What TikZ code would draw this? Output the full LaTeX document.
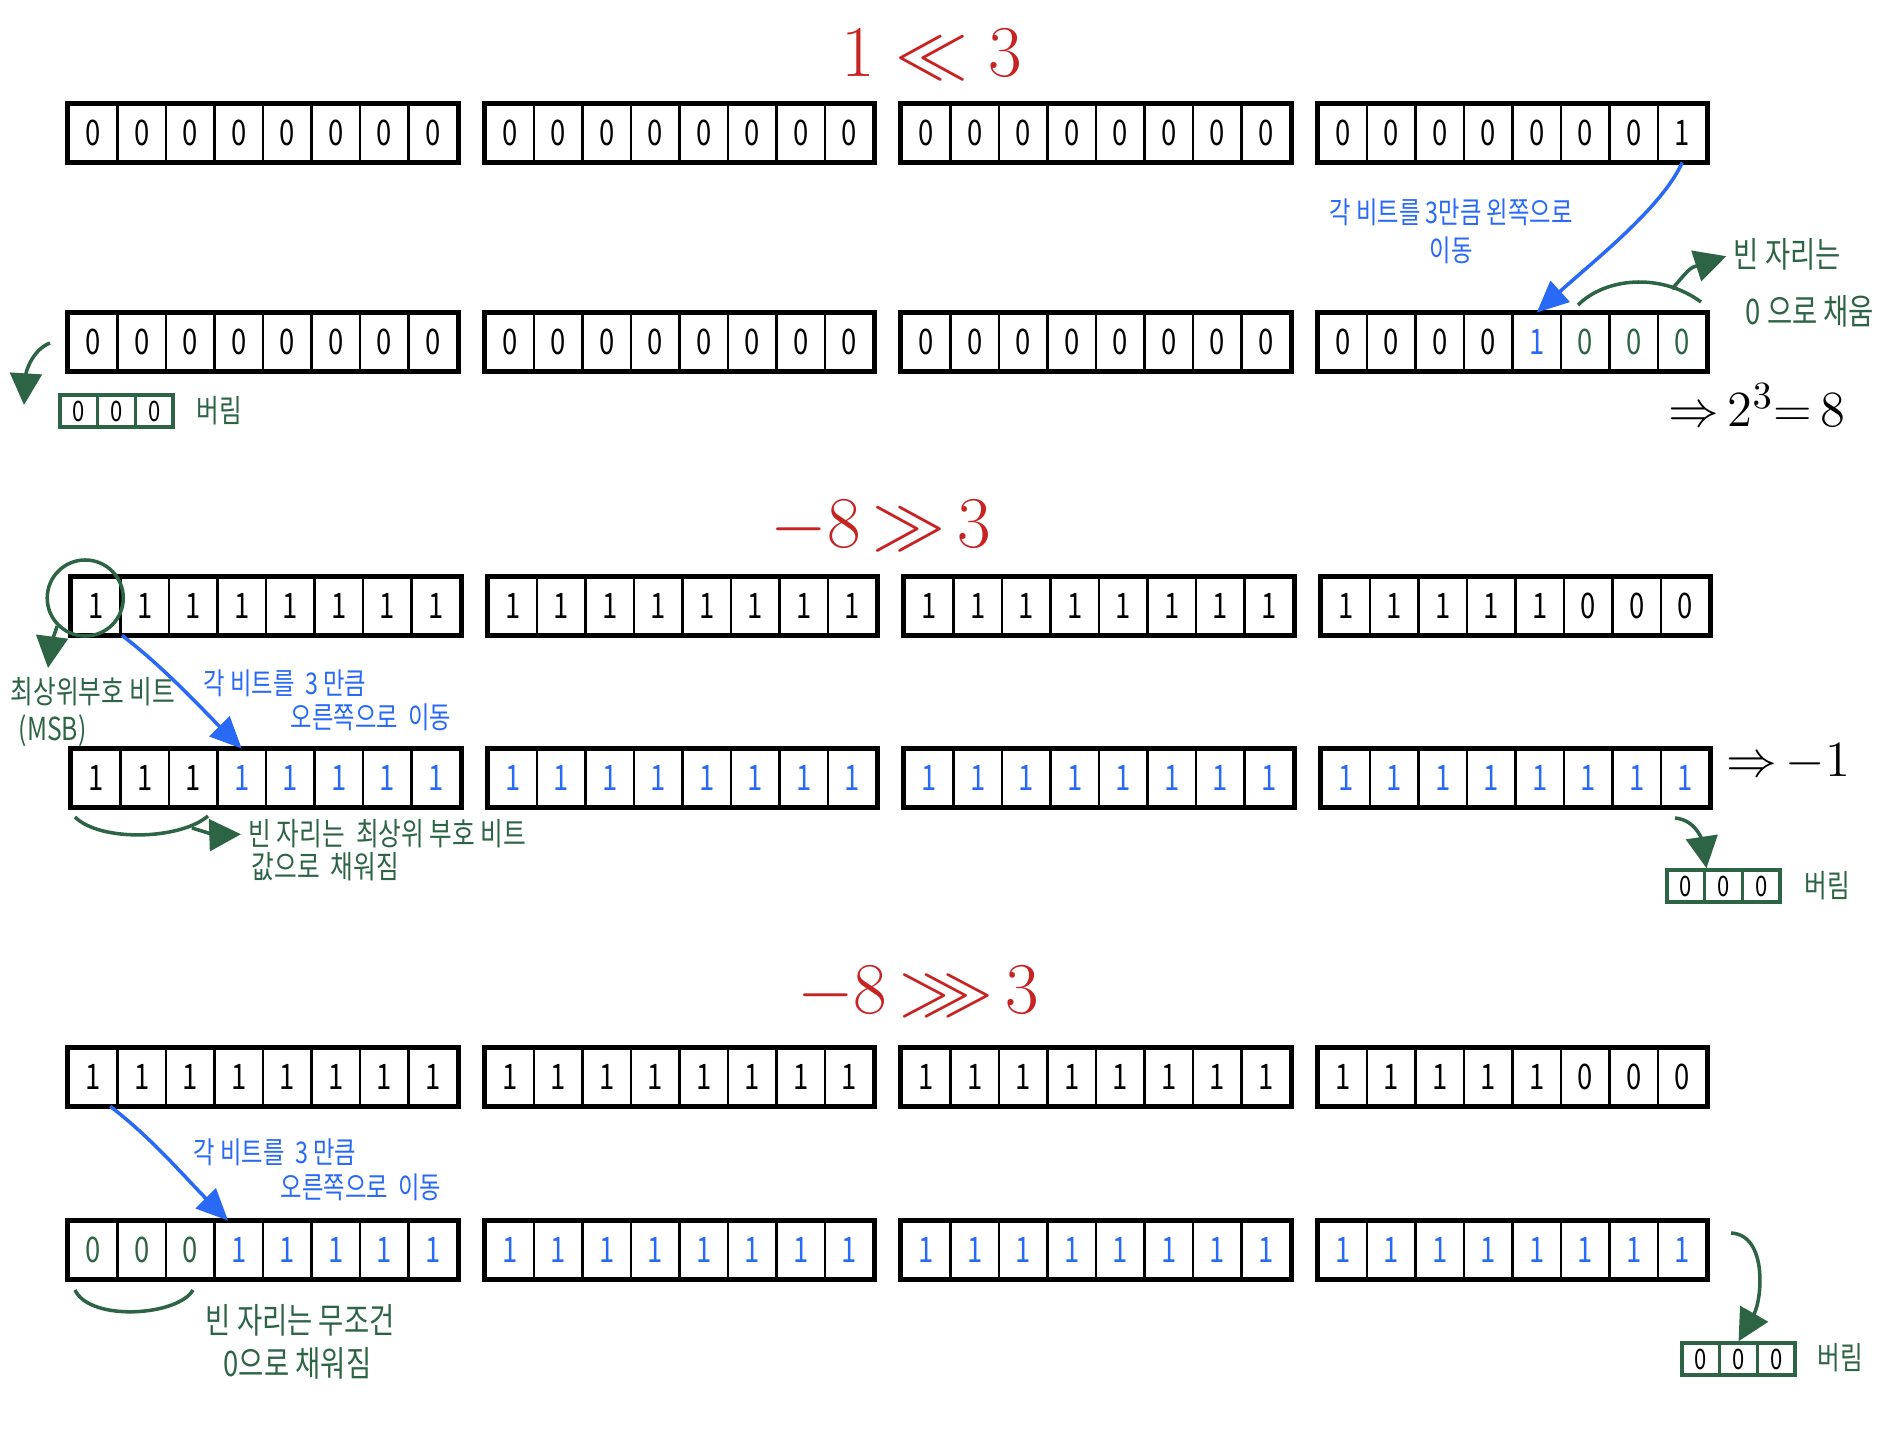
\documentclass[tikz,border=0pt]{standalone}
\usepackage{fontspec}
\usepackage{amssymb}
\usetikzlibrary{arrows.meta}
\newfontfamily\hand[FakeStretch=0.78]{Noto Sans CJK KR}
\definecolor{handred}{RGB}{200,35,35}
\definecolor{handblue}{RGB}{40,105,245}
\definecolor{handgreen}{RGB}{45,100,70}
% short colour names for the bit lists
\colorlet{k}{black}
\colorlet{b}{handblue}
\colorlet{g}{handgreen}

\tikzset{
  cell/.style={draw, line width=0.8pt, minimum width=0.485cm, minimum height=0.56cm,
    inner sep=0pt, font=\hand\fontsize{10}{10}\selectfont},
  groupframe/.style={line width=1.2pt},
  dropcell/.style={draw=handgreen, line width=1pt, minimum width=0.377cm, minimum height=0.32cm,
    inner sep=0pt, font=\hand\fontsize{8}{8}\selectfont},
  optitle/.style={text=handred, font=\fontsize{20}{22}\selectfont},
  result/.style={font=\fontsize{15}{18}\selectfont, anchor=west, inner sep=0pt},
  bluenote/.style={text=handblue, font=\hand\fontsize{8.5}{10.8}\selectfont, inner sep=0pt},
  greennote/.style={text=handgreen, font=\hand\fontsize{9}{11}\selectfont, inner sep=0pt, anchor=west},
  bluearrow/.style={handblue, line width=1pt, -{Triangle[length=9pt,width=8pt]}},
  greenarrow/.style={handgreen, line width=1pt, -{Triangle[length=9pt,width=9pt]}},
  greenline/.style={handgreen, line width=1pt},
}

% 32 bits in four bytes: name, left x, centre y, colour/bit list
\newcommand{\bitrow}[4]{%
  \foreach \bcol/\bval [count=\i from 0] in {#4} {
    \pgfmathsetmacro{\cx}{#2+int(\i/8)*416.5+mod(\i,8)*48.5+24.25}
    \node[cell, text=\bcol] (#1-\i) at (\cx,#3) {\bval};
  }
  \foreach \g in {0,...,3} {
    \pgfmathtruncatemacro{\gfirst}{8*\g}
    \pgfmathtruncatemacro{\glast}{8*\g+7}
    \draw[groupframe] (#1-\gfirst.north west) rectangle (#1-\glast.south east);
  }
}
% three dropped bits
\newcommand{\dropbox}[3]{%
  \foreach \i in {0,1,2}
    \node[dropcell] (#1-\i) at ({#2+\i*37.7+18.85},#3) {0};
}

\begin{document}
\begin{tikzpicture}[x=0.01cm, y=-0.01cm]
    \useasboundingbox (0,0) rectangle (1896,1436);

    % ---- 1 << 3 ----
    \node[optitle] (shltitle) at (932,54) {$1\;{\ll}\;3$};
    \bitrow{r1}{69}{133}{k/0,k/0,k/0,k/0,k/0,k/0,k/0,k/0,
      k/0,k/0,k/0,k/0,k/0,k/0,k/0,k/0,
      k/0,k/0,k/0,k/0,k/0,k/0,k/0,k/0,
      k/0,k/0,k/0,k/0,k/0,k/0,k/0,k/1}
    \bitrow{r2}{69}{342}{k/0,k/0,k/0,k/0,k/0,k/0,k/0,k/0,
      k/0,k/0,k/0,k/0,k/0,k/0,k/0,k/0,
      k/0,k/0,k/0,k/0,k/0,k/0,k/0,k/0,
      k/0,k/0,k/0,k/0,b/1,g/0,g/0,g/0}
    % shift arrow
    \draw[bluearrow] (r1-31.south) .. controls +(-20,45) and +(55,-50) .. (r2-28.north);
    \node[bluenote, align=center] (lshiftnote) at (1451,231) {각 비트를 3만큼 왼쪽으로\\이동};
    % filled with zeros
    \node[greennote, font=\hand\fontsize{10}{12}\selectfont] (fillnote) at (1733,254) {빈 자리는};
    \node[greennote, font=\hand\fontsize{10}{12}\selectfont] (fillnote2) at (1745,311) {0 으로 채움};
    \coordinate (fillL) at (1578,305);
    \coordinate (fillR) at (1701,302);
    \coordinate (fillM) at (1672,289);
    \draw[greenline] (fillL) .. controls (1605,278) and (1660,272) .. (fillR);
    \draw[greenarrow, shorten >=2pt] (fillM) .. controls (1690,268) .. (fillnote.west);
    \node[result] (lresult) at (1668,405) {${\Rightarrow}\,2^{3}{=}\,8$};
    % dropped bits
    \dropbox{d1}{60}{411}
    \node[greennote] (drop1note) at (196,411) {버림};
    \coordinate (dropA) at (50,343);
    \coordinate (dropAtip) at (24,405);
    \draw[greenarrow] (dropA) .. controls (32,350) and (26,372) .. (dropAtip);

    % ---- -8 >> 3 ----
    \node[optitle] (sartitle) at (881,527) {${-}8\,{\gg}\,3$};
    \bitrow{r3}{72}{606}{k/1,k/1,k/1,k/1,k/1,k/1,k/1,k/1,
      k/1,k/1,k/1,k/1,k/1,k/1,k/1,k/1,
      k/1,k/1,k/1,k/1,k/1,k/1,k/1,k/1,
      k/1,k/1,k/1,k/1,k/1,k/0,k/0,k/0}
    \bitrow{r4}{72}{778}{k/1,k/1,k/1,b/1,b/1,b/1,b/1,b/1,
      b/1,b/1,b/1,b/1,b/1,b/1,b/1,b/1,
      b/1,b/1,b/1,b/1,b/1,b/1,b/1,b/1,
      b/1,b/1,b/1,b/1,b/1,b/1,b/1,b/1}
    % sign bit
    \node[draw=handgreen, line width=1pt, circle, minimum size=0.76cm, inner sep=0pt]
      (msbring) at ([shift={(-0.11cm,0.08cm)}]r3-0.center) {};
    \node[greennote] (msbnote) at (10,692) {최상위부호 비트};
    \node[greennote] (msbnote2) at (18,731) {(MSB)};
    \coordinate (msbtip) at (48,668);
    \draw[greenarrow] (msbring.225) .. controls +(-6,18) .. (msbtip);
    % shift arrow
    \draw[bluearrow] (r3-0.south east) .. controls +(40,30) and +(-40,-40) .. (r4-3.north);
    \node[bluenote, anchor=west] (rshiftnote) at (203,683) {각 비트를\ \ 3 만큼};
    \node[bluenote, anchor=west] (rshiftnote2) at (290,717) {오른쪽으로\ \ 이동};
    % filled with sign bit
    \coordinate (signL) at (75,817);
    \coordinate (signR) at (208,816);
    \coordinate (signM) at (192,828);
    \draw[greenline] (signL) .. controls (100,842) and (180,840) .. (signR);
    \node[greennote] (signnote) at (248,834) {빈 자리는\ \ 최상위 부호 비트};
    \node[greennote] (signnote2) at (251,867) {값으로\ \ 채워짐};
    \draw[greenarrow, shorten >=2pt] (signM) .. controls (215,835) .. (signnote.west);
    \node[result] (aresult) at (1726,762) {${\Rightarrow}\,{-}1$};
    % dropped bits
    \dropbox{d2}{1667}{886}
    \node[greennote] (drop2note) at (1804,886) {버림};
    \coordinate (dropB) at (1675,818);
    \draw[greenarrow] (dropB) .. controls (1698,820) and (1703,845) .. (d2-0.north east);

    % ---- -8 >>> 3 ----
    \node[optitle] (shrtitle) at (918,993) {${-}8\,{\ggg}\,3$};
    \bitrow{r5}{69}{1077}{k/1,k/1,k/1,k/1,k/1,k/1,k/1,k/1,
      k/1,k/1,k/1,k/1,k/1,k/1,k/1,k/1,
      k/1,k/1,k/1,k/1,k/1,k/1,k/1,k/1,
      k/1,k/1,k/1,k/1,k/1,k/0,k/0,k/0}
    \bitrow{r6}{69}{1250}{g/0,g/0,g/0,b/1,b/1,b/1,b/1,b/1,
      b/1,b/1,b/1,b/1,b/1,b/1,b/1,b/1,
      b/1,b/1,b/1,b/1,b/1,b/1,b/1,b/1,
      b/1,b/1,b/1,b/1,b/1,b/1,b/1,b/1}
    % shift arrow
    \draw[bluearrow] (r5-0.-60) .. controls +(40,30) and +(-40,-40) .. (r6-3.110);
    \node[bluenote, anchor=west] (ushiftnote) at (193,1152) {각 비트를\ \ 3 만큼};
    \node[bluenote, anchor=west] (ushiftnote2) at (280,1187) {오른쪽으로\ \ 이동};
    % always zero
    \coordinate (zeroL) at (75,1290);
    \coordinate (zeroR) at (193,1290);
    \draw[greenline] (zeroL) .. controls (90,1322) and (178,1316) .. (zeroR);
    \node[greennote, font=\hand\fontsize{10}{12}\selectfont] (zeronote) at (205,1320) {빈 자리는 무조건};
    \node[greennote, font=\hand\fontsize{10}{12}\selectfont] (zeronote2) at (223,1363) {0으로 채워짐};
    % dropped bits
    \dropbox{d3}{1682}{1359}
    \node[greennote] (drop3note) at (1817,1358) {버림};
    \coordinate (dropC) at (1731,1233);
    \draw[greenarrow] (dropC) .. controls (1768,1235) and (1762,1300) .. (d3-1.north);
\end{tikzpicture}
\end{document}
